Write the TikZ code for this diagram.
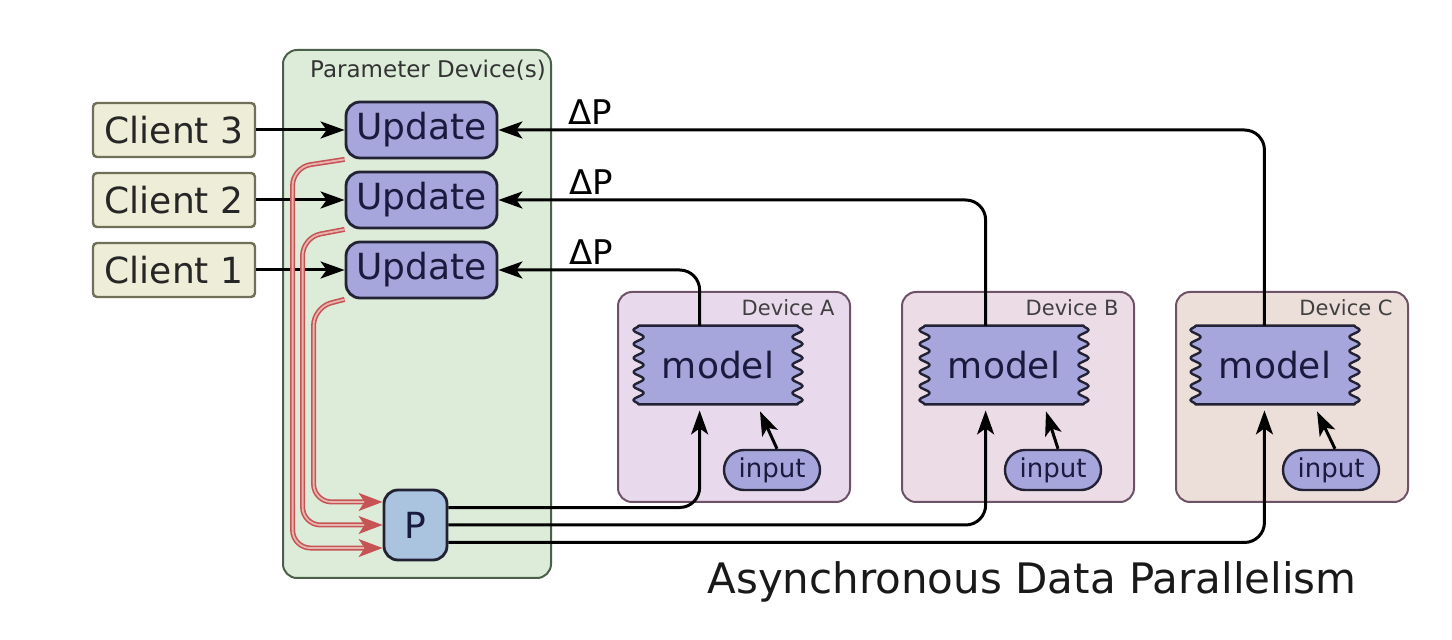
\documentclass[tikz,border=0pt]{standalone}
\usepackage{fontspec}
\setmainfont{DejaVu Sans}
\usetikzlibrary{shapes.geometric, arrows.meta, calc, backgrounds, decorations.pathmorphing}
\definecolor{pdevfill}{RGB}{221,236,217}
\definecolor{pdevline}{RGB}{74,96,72}
\definecolor{clientfill}{RGB}{238,238,216}
\definecolor{clientline}{RGB}{112,112,88}
\definecolor{boxfill}{RGB}{166,166,220}
\definecolor{boxline}{RGB}{34,34,52}
\definecolor{boxtext}{RGB}{26,26,62}
\definecolor{pfill}{RGB}{170,196,224}
\definecolor{devline}{RGB}{110,82,104}
\definecolor{devAfill}{RGB}{232,218,236}
\definecolor{devBfill}{RGB}{236,220,230}
\definecolor{devCfill}{RGB}{236,222,216}
\definecolor{redline}{RGB}{198,84,84}
\definecolor{redinner}{RGB}{232,180,176}
\tikzstyle{group} = [rectangle, rounded corners=7pt, line width=1pt]
\tikzstyle{grouptitle} = [text=black!80, font=\fontsize{11.5}{13}\selectfont]
\tikzstyle{client} = [rectangle, rounded corners=2pt, minimum width=81pt, minimum height=27pt, text centered, draw=clientline, fill=clientfill, line width=1.2pt, text=black!85, font=\fontsize{18}{20}\selectfont]
\tikzstyle{update} = [rectangle, rounded corners=7pt, minimum width=75.5pt, minimum height=28pt, text centered, draw=boxline, fill=boxfill, line width=1.4pt, text=boxtext, font=\fontsize{18}{20}\selectfont]
\tikzstyle{device} = [rectangle, rounded corners=7pt, minimum width=116pt, minimum height=105pt, draw=devline, line width=1pt]
\tikzstyle{devlabel} = [anchor=north east, inner sep=1pt, text=black!75, font=\fontsize{10.5}{12}\selectfont]
\tikzstyle{model} = [rectangle, minimum width=79pt, minimum height=39pt, text=boxtext, font=\fontsize{18}{20}\selectfont]
\tikzstyle{modelshape} = [draw=boxline, fill=boxfill, line width=1.2pt, line join=round, decoration={snake, segment length=7pt, amplitude=2.6pt}]
\tikzstyle{input} = [rectangle, rounded corners=10pt, minimum width=48pt, minimum height=20pt, text centered, draw=boxline, fill=boxfill, line width=1.2pt, text=boxtext, font=\fontsize{13}{15}\selectfont]
\tikzstyle{param} = [rectangle, rounded corners=7pt, minimum width=31.5pt, minimum height=35pt, text centered, draw=boxline, fill=pfill, line width=1.4pt, text=boxtext, font=\fontsize{18}{20}\selectfont]
\tikzstyle{dlabel} = [above, inner sep=2pt, font=\fontsize{17}{19}\selectfont]
\tikzstyle{caption} = [text=black!90, font=\fontsize{21}{24}\selectfont]
\tikzstyle{arrow} = [line width=1.5pt, ->, >={Stealth[length=12pt, width=8.5pt, inset=3pt]}]
\tikzstyle{redarrow} = [line width=0.8pt, draw=redline, double=redinner, double distance=0.9pt, ->, >={Stealth[length=12pt, width=9pt, inset=3pt]}]

\begin{document}
\begin{tikzpicture}[x=0.5pt, y=-0.5pt, node distance=35pt]
\useasboundingbox (0,0) rectangle (1452,640);
% parameter device(s)
\node (pdev) [group, draw=pdevline, fill=pdevfill, minimum width=134pt, minimum height=264pt] at (417,314) {};
\node (ptitle) [grouptitle] at (428,70) {Parameter Device(s)};
\node (upd3) [update] at (421.5,130) {Update};
\node (upd2) [update, below of=upd3] {Update};
\node (upd1) [update, below of=upd2] {Update};
\node (par) [param] at (415.5,525) {P};
% clients
\node (cl3) [client, node distance=123.75pt, left of=upd3] {Client 3};
\node (cl2) [client, node distance=123.75pt, left of=upd2] {Client 2};
\node (cl1) [client, node distance=123.75pt, left of=upd1] {Client 1};
% devices
\begin{scope}[on background layer]
\node (devA) [device, fill=devAfill] at (734,397) {};
\node (devB) [device, fill=devBfill, node distance=142pt, right of=devA] {};
\node (devC) [device, fill=devCfill, node distance=137pt, right of=devB] {};
\end{scope}
\node (labA) [devlabel] at ($(devA.north east)+(-14,6)$) {Device A};
\node (labB) [devlabel] at ($(devB.north east)+(-14,6)$) {Device B};
\node (labC) [devlabel] at ($(devC.north east)+(-14,6)$) {Device C};
\node (modA) [model] at ($(devA)+(-16,-32)$) {model};
\node (modB) [model] at ($(devB)+(-14,-32)$) {model};
\node (modC) [model] at ($(devC)+(-17,-32)$) {model};
\node (inA) [input] at ($(devA)+(38,73)$) {input};
\node (inB) [input] at ($(devB)+(35,73)$) {input};
\node (inC) [input] at ($(devC)+(39,73)$) {input};
\begin{scope}[on background layer]
\filldraw [modelshape] (modA.north west) -- (modA.north east) decorate {-- (modA.south east)} -- (modA.south west) decorate {-- (modA.north west)} -- cycle;
\filldraw [modelshape] (modB.north west) -- (modB.north east) decorate {-- (modB.south east)} -- (modB.south west) decorate {-- (modB.north west)} -- cycle;
\filldraw [modelshape] (modC.north west) -- (modC.north east) decorate {-- (modC.south east)} -- (modC.south west) decorate {-- (modC.north west)} -- cycle;
\end{scope}
\node (title) [caption] at (1032,582) {Asynchronous Data Parallelism};
% connectors
\draw [arrow] (cl3) -- (upd3);
\draw [arrow] (cl2) -- (upd2);
\draw [arrow] (cl1) -- (upd1);
\draw [arrow, rounded corners=10pt] (modA.115) |- node[dlabel, pos=.77] {ΔP} (upd1.east);
\draw [arrow, rounded corners=10pt] (modB.115) |- node[dlabel, pos=.905] {ΔP} (upd2.east);
\draw [arrow, rounded corners=10pt] (modC.105) |- node[dlabel, pos=.94] {ΔP} (upd3.east);
\draw [redarrow, rounded corners=9pt] (upd1.south west) -- ++(-31,8) |- (par.145);
\draw [redarrow, rounded corners=9pt] (upd2.south west) -- ++(-42,8) |- (par.west);
\draw [redarrow, rounded corners=9pt] (upd3.south west) -- ++(-52,8) |- (par.215);
\draw [arrow, shorten >=3pt, rounded corners=10pt] (par.28) -| (modA.245);
\draw [arrow, shorten >=3pt, rounded corners=10pt] (par.east) -| (modB.245);
\draw [arrow, shorten >=3pt, rounded corners=10pt] (par.-28) -| (modC.255);
\draw [arrow] ($(inA.north)+(5,0)$) -- ($(modA.south)+(42,7)$);
\draw [arrow] ($(inB.north)+(5,0)$) -- ($(modB.south)+(42,7)$);
\draw [arrow] ($(inC.north)+(4,0)$) -- ($(modC.south)+(42,7)$);
\end{tikzpicture}
\end{document}
